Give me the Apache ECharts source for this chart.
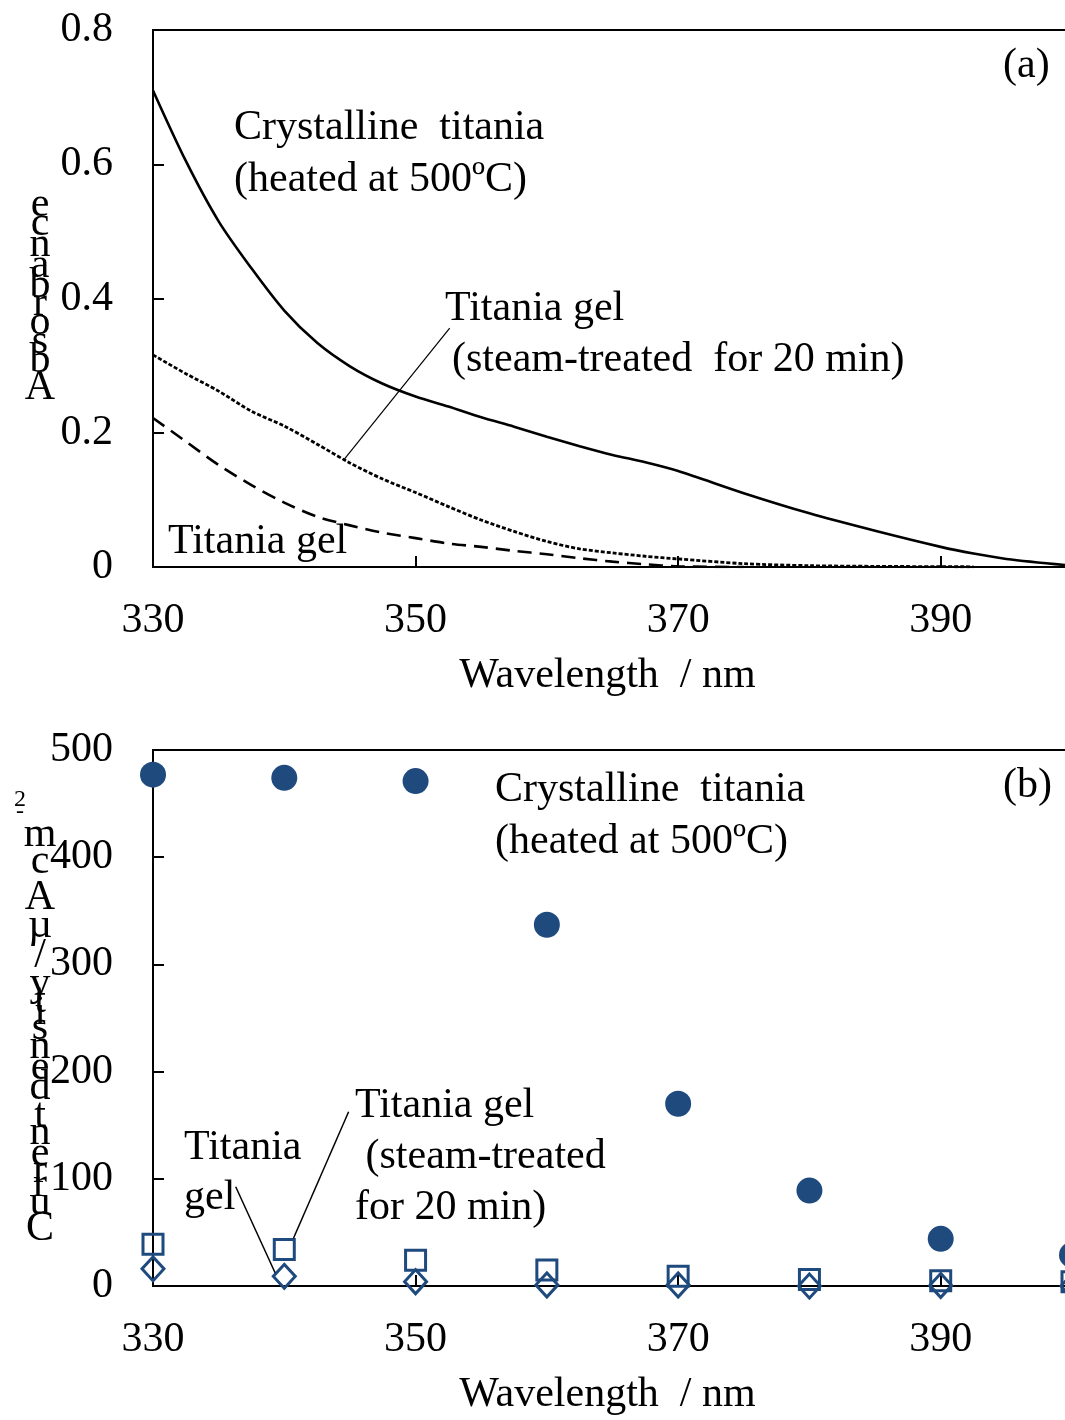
<!DOCTYPE html>
<html>
<head>
<meta charset="utf-8">
<script src="https://cdn.jsdelivr.net/npm/echarts@6/dist/echarts.min.js"></script>
<style>
  html, body { margin: 0; padding: 0; background: #fff; }
  #chart { width: 1065px; height: 1420px; }
</style>
</head>
<body>
<div id="chart"></div>
<script>
// ---- (a) absorbance spectra ----
const wlA = [330, 332.5, 335, 337.5, 340, 342.5, 345, 347.5, 350, 352.5, 355, 357.5,
             360, 362.5, 365, 367.5, 370, 375, 380, 385, 390, 392.5, 395, 400];
const crystalAbs = [0.710, 0.605, 0.515, 0.445, 0.382, 0.334, 0.299, 0.273, 0.254, 0.239, 0.223, 0.209,
                    0.194, 0.180, 0.167, 0.156, 0.143, 0.110, 0.080, 0.054, 0.030, 0.020, 0.012, 0.002];
const steamAbs = [0.316, 0.288, 0.262, 0.232, 0.210, 0.183, 0.155, 0.131, 0.111, 0.090, 0.070, 0.053,
                  0.038, 0.027, 0.021, 0.016, 0.012, 0.005, 0.002, 0.001, 0.0005, 0.0003, null, null];
const gelAbs = [0.222, 0.187, 0.152, 0.122, 0.096, 0.075, 0.062, 0.051, 0.043, 0.035, 0.030, 0.024,
                0.019, 0.013, 0.008, 0.004, 0.001, 0, null, null, null, null, null, null];

// ---- (b) current density ----
const wlB = [330, 340, 350, 360, 370, 380, 390, 400];
const crystalCur = [477, 474, 471, 337, 170, 89, 44, 29];
const steamCur = [39, 34, 24, 15, 9, 6, 5, 4];
const gelCur = [16, 9, 4, 1, 1, 0, 0.5, 0];

const FONT = '"Liberation Serif", "Times New Roman", serif';
const BLUE = '#1f4a7e';
const FS = 42;

function pairs(xs, ys) {
  return xs.map((x, i) => [x, ys[i]]).filter(p => p[1] != null);
}

function label(text, x, y, size) {
  return {
    type: 'text', x: x, y: y, z: 10,
    style: { text: text, fontSize: size || FS, fontFamily: FONT, fill: '#000',
             align: 'left', verticalAlign: 'middle' }
  };
}

// axis titles that come out as upright letters stacked bottom-to-top
const ctx = document.createElement('canvas').getContext('2d');
function stacked(str, cx, firstCenter, size, scale) {
  ctx.font = size + 'px ' + FONT;
  const out = [];
  let y = firstCenter - ctx.measureText(str[0]).width * scale / 2;
  for (const ch of str) {
    const w = ctx.measureText(ch).width * scale;
    if (ch !== ' ') {
      out.push({
        type: 'text', x: cx, y: y + w / 2, z: 10,
        style: { text: ch, fontSize: size, fontFamily: FONT, fill: '#000',
                 align: 'center', verticalAlign: 'middle' }
      });
    }
    y += w;
  }
  return out;
}

const axisText = { color: '#000', fontSize: FS, fontFamily: FONT };

function xAxisFor(gi) {
  return {
    gridIndex: gi, type: 'value', min: 330, max: 400, interval: 20,
    name: 'Wavelength  / nm', nameLocation: 'middle', nameGap: 88,
    nameTextStyle: Object.assign({ padding: [0, 10, 0, 0] }, axisText),
    axisLine: { lineStyle: { color: '#000', width: 2 } },
    axisTick: { inside: true, length: 11, lineStyle: { color: '#000', width: 2 } },
    axisLabel: Object.assign({ margin: 33, showMaxLabel: false }, axisText),
    splitLine: { show: false }
  };
}

function yAxisFor(gi, max, interval, fmt) {
  return {
    gridIndex: gi, type: 'value', min: 0, max: max, interval: interval,
    axisLine: { lineStyle: { color: '#000', width: 2 } },
    axisTick: { inside: true, length: 11, lineStyle: { color: '#000', width: 2 } },
    axisLabel: Object.assign({ margin: 40, formatter: fmt }, axisText),
    splitLine: { show: false }
  };
}

const hollow = { color: 'rgba(255,255,255,0)', borderColor: BLUE, borderWidth: 3, opacity: 1 };

const chart = echarts.init(document.getElementById('chart'));
chart.setOption({
  backgroundColor: '#fff',
  animation: false,
  // plot runs past the right edge of the picture (400 nm sits at x≈1072)
  grid: [
    { left: 153, width: 919, top: 30, height: 537, outerBoundsMode: 'none',
      show: true, borderColor: '#000', borderWidth: 2 },
    { left: 153, width: 919, top: 750, height: 536, outerBoundsMode: 'none',
      show: true, borderColor: '#000', borderWidth: 2 }
  ],
  xAxis: [xAxisFor(0), xAxisFor(1)],
  yAxis: [
    yAxisFor(0, 0.8, 0.2, v => v === 0 ? '0' : v.toFixed(1)),
    yAxisFor(1, 500, 100, v => String(Math.round(v)))
  ],
  series: [
    {
      name: 'Crystalline titania', type: 'line', xAxisIndex: 0, yAxisIndex: 0,
      data: pairs(wlA, crystalAbs), smooth: 0.3, showSymbol: false,
      lineStyle: { color: '#000', width: 2.6 }
    },
    {
      name: 'Titania gel (steam-treated)', type: 'line', xAxisIndex: 0, yAxisIndex: 0,
      data: pairs(wlA, steamAbs), smooth: 0.3, showSymbol: false,
      lineStyle: { color: '#000', width: 2.8, type: [4, 2] },
      markLine: {
        silent: true, symbol: ['none', 'none'], label: { show: false },
        lineStyle: { color: '#000', width: 1.2, type: 'solid' },
        data: [[{ coord: [344.5, 0.159] }, { coord: [352.6, 0.356] }]]
      }
    },
    {
      name: 'Titania gel', type: 'line', xAxisIndex: 0, yAxisIndex: 0,
      data: pairs(wlA, gelAbs), smooth: 0.3, showSymbol: false,
      lineStyle: { color: '#000', width: 2.6, type: [14, 8] }
    },
    {
      name: 'Crystalline titania', type: 'scatter', xAxisIndex: 1, yAxisIndex: 1,
      data: pairs(wlB, crystalCur), symbol: 'circle', symbolSize: 26,
      itemStyle: { color: BLUE, opacity: 1 }
    },
    {
      name: 'Titania gel (steam-treated)', type: 'scatter', xAxisIndex: 1, yAxisIndex: 1,
      data: pairs(wlB, steamCur), symbol: 'rect', symbolSize: 20,
      itemStyle: hollow,
      markLine: {
        silent: true, symbol: ['none', 'none'], label: { show: false },
        lineStyle: { color: '#000', width: 1.5, type: 'solid' },
        data: [
          [{ coord: [340.7, 44.5] }, { coord: [344.9, 162.6] }],
          [{ coord: [336.3, 92.6] }, { coord: [339.3, 12.4] }]
        ]
      }
    },
    {
      name: 'Titania gel', type: 'scatter', xAxisIndex: 1, yAxisIndex: 1,
      data: pairs(wlB, gelCur), symbol: 'diamond', symbolSize: [22, 24],
      itemStyle: hollow
    }
  ],
  graphic: [
    // panel (a)
    label('Crystalline  titania', 234, 128),
    label('(heated at 500ºC)', 234, 180),
    label('Titania gel', 445, 309),
    label('(steam-treated  for 20 min)', 452, 360),
    label('Titania gel', 168, 542),
    label('(a)', 1003, 66),
    // panel (b)
    label('Crystalline  titania', 495, 790),
    label('(heated at 500ºC)', 495, 842),
    label('(b)', 1003, 786),
    label('Titania gel', 355, 1106),
    label(' (steam-treated', 355, 1157),
    label('for 20 min)', 355, 1208),
    label('Titania', 184, 1148),
    label('gel', 184, 1198),
    label('2', 14, 800, 24),
    label('-', 16, 812, 24)
  ].concat(
    stacked('ecnabrosbA', 40, 205, FS, 1.04),
    stacked('mc Aµ / ytisned tnerruC', 40, 835, FS, 1.04)
  )
});
</script>
</body>
</html>
